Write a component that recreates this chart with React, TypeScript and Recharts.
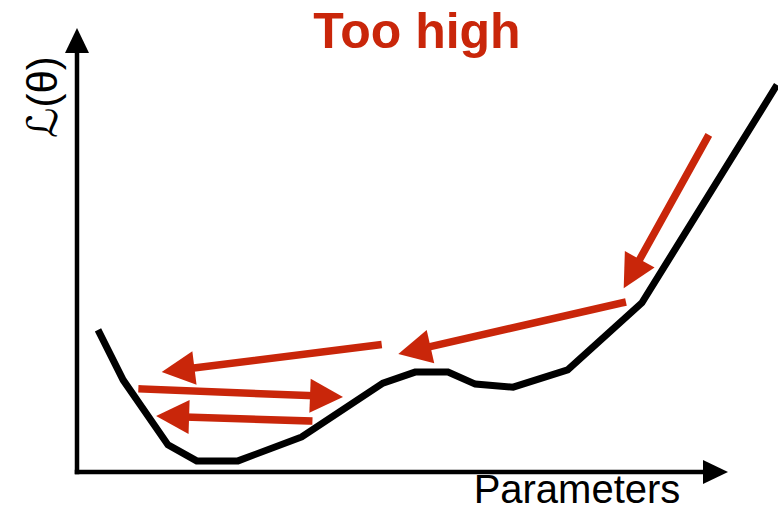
import { LineChart, Line, XAxis, YAxis, ReferenceLine } from 'recharts';

// loss curve (x: parameters 0-100, y: loss 0-100)
const paramValues = [3.0, 6.6, 13.0, 17.1, 23.0, 32.1, 43.7, 48.3, 53.0, 56.9, 62.3, 70.1, 80.7, 100];
const lossValues = [32.0, 20.7, 6.1, 2.5, 2.5, 7.9, 20.0, 22.5, 22.5, 19.8, 19.1, 23.0, 38.1, 87.2];

// gradient steps: [tailX, tailY, tipX, tipY]
const steps = [
  [90.0, 75.2, 78.1, 41.4],
  [77.9, 38.1, 45.9, 26.6],
  [43.0, 28.6, 12.1, 22.5],
  [9.3, 18.7, 38.0, 16.9],
  [33.1, 11.5, 11.3, 12.6],
];

const titleText = 'Too high';
const xLabel = 'Parameters';
const yLabel = 'ℒ(θ)';

const RED = '#c9260a';

const curve = paramValues.map((x, i) => ({ x, y: lossValues[i] }));

function makeArrow(color: string, width: number, headLen: number, headWidth: number) {
  return (p: any) => {
    const { x1, y1, x2, y2 } = p;
    const dx = x2 - x1;
    const dy = y2 - y1;
    const len = Math.sqrt(dx * dx + dy * dy) || 1;
    const ux = dx / len;
    const uy = dy / len;
    const bx = x2 - ux * headLen;
    const by = y2 - uy * headLen;
    const px = -uy * (headWidth / 2);
    const py = ux * (headWidth / 2);
    return (
      <g>
        <line x1={x1} y1={y1} x2={bx + ux} y2={by + uy} stroke={color} strokeWidth={width} strokeLinecap="square" />
        <polygon points={`${x2},${y2} ${bx + px},${by + py} ${bx - px},${by - py}`} fill={color} />
      </g>
    );
  };
}

const redArrow = makeArrow(RED, 7.5, 33, 34);
const axisArrow = makeArrow('#000', 4.5, 25, 24);

export default function App() {
  return (
    <div style={{ position: 'absolute', left: 0, top: 0, background: '#fff' }}>
      <LineChart width={778} height={512} data={curve} margin={{ top: 28, right: 1, bottom: 40, left: 77 }}>
        <XAxis type="number" dataKey="x" domain={[0, 100]} hide />
        <YAxis type="number" domain={[0, 100]} hide />
        <ReferenceLine segment={[{ x: 0, y: 0 }, { x: 93, y: 0 }]} ifOverflow="visible" shape={axisArrow} />
        <ReferenceLine segment={[{ x: 0, y: 0 }, { x: 0, y: 100 }]} ifOverflow="visible" shape={axisArrow} />
        <Line
          type="linear"
          dataKey="y"
          stroke="#000"
          strokeWidth={7}
          strokeLinejoin="miter"
          strokeLinecap="butt"
          dot={false}
          activeDot={false}
          isAnimationActive={false}
        />
        {steps.map((s, i) => (
          <ReferenceLine
            key={i}
            segment={[{ x: s[0], y: s[1] }, { x: s[2], y: s[3] }]}
            ifOverflow="visible"
            shape={redArrow}
          />
        ))}
        <text x={417} y={48} textAnchor="middle" fill={RED} fontFamily="Liberation Sans, Arial, sans-serif" fontWeight="bold" fontSize={50}>
          {titleText}
        </text>
        <text x={577} y={503} textAnchor="middle" fill="#000" fontFamily="Liberation Sans, Arial, sans-serif" fontSize={40}>
          {xLabel}
        </text>
        <text
          x={42}
          y={97}
          transform="rotate(-90 42 97)"
          textAnchor="middle"
          dominantBaseline="central"
          fill="#000"
          fontFamily="Liberation Sans, DejaVu Sans, sans-serif"
          fontSize={42}
        >
          {yLabel}
        </text>
      </LineChart>
    </div>
  );
}
